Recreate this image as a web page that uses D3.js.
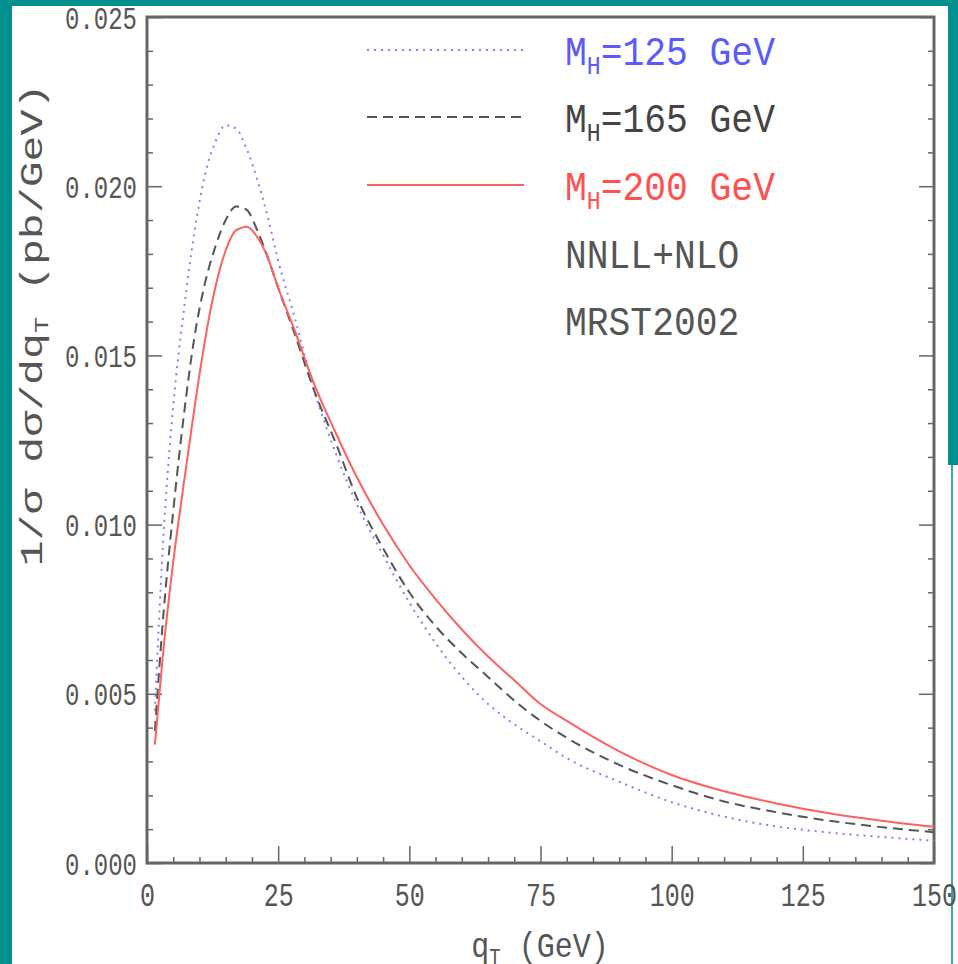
<html>
<head>
<script src="https://d3js.org/d3.v7.min.js"></script>
<style>
  body { margin: 0; background: #00918e; }
  text { font-family: "Liberation Mono", "DejaVu Sans Mono", monospace; }
</style>
</head>
<body>
<script>
// q_T values (GeV)
var qT = [1.5, 3, 5, 7, 9, 11, 13, 15, 17, 19, 21, 23, 25, 28, 32, 36, 40, 45, 50, 55,
          60, 65, 70, 75, 80, 90, 100, 110, 120, 130, 140, 150];
// 1/sigma dsigma/dqT (pb/GeV)
var mh125 = [0.0045, 0.0093, 0.0135, 0.0163, 0.0186, 0.0203, 0.0213, 0.0218, 0.0217, 0.0211,
             0.0202, 0.0191, 0.0178, 0.0162, 0.0139, 0.0121, 0.0106, 0.0091, 0.0077, 0.0065,
             0.0055, 0.0047, 0.0041, 0.0036, 0.0031, 0.0024, 0.00180, 0.00137, 0.00108,
             0.00090, 0.00077, 0.00066];
var mh165 = [0.0039, 0.0071, 0.0104, 0.0132, 0.0155, 0.0171, 0.0182, 0.0190, 0.0194, 0.0193,
             0.0187, 0.0179, 0.0170, 0.0157, 0.0139, 0.0124, 0.0108, 0.0093, 0.0080, 0.0070,
             0.0062, 0.0055, 0.0048, 0.0042, 0.0037, 0.0029, 0.0023, 0.00182, 0.00150,
             0.00125, 0.00106, 0.00091];
var mh200 = [0.0035, 0.0061, 0.0089, 0.0112, 0.0134, 0.0154, 0.0170, 0.0181, 0.0187, 0.0188,
             0.0185, 0.0179, 0.0170, 0.0158, 0.0141, 0.0127, 0.0114, 0.0100, 0.0088, 0.0078,
             0.0069, 0.0061, 0.0054, 0.0047, 0.0042, 0.0033, 0.0026, 0.00212, 0.00176,
             0.00147, 0.00125, 0.00107];
var xTicks = [0, 25, 50, 75, 100, 125, 150];
var yTicks = [0, 0.005, 0.010, 0.015, 0.020, 0.025];
var legendNames = ["125", "165", "200"];
var notes = ["NNLL+NLO", "MRST2002"];

var W = 958, H = 964;
var pLeft = 147, pRight = 934, pTop = 17, pBottom = 863;

var svg = d3.select("body").append("svg").attr("width", W).attr("height", H);

// slide background
svg.append("rect").attr("width", W).attr("height", H).attr("fill", "#00918e");
svg.append("rect").attr("x", 12).attr("y", 6).attr("width", 936).attr("height", H - 6).attr("fill", "#fff");
svg.append("rect").attr("x", 948).attr("y", 465).attr("width", 10).attr("height", H - 465).attr("fill", "#fff");
svg.append("rect").attr("x", 951).attr("y", 465).attr("width", 2).attr("height", H - 465).attr("fill", "#3aa8a5");

var x = d3.scaleLinear().domain([0, 150]).range([pLeft, pRight]);
var y = d3.scaleLinear().domain([0, 0.025]).range([pBottom, pTop]);

var axisColor = "#666", textColor = "#555";

// minor ticks
var xMinor = d3.range(0, 151, 5).filter(function(d){ return d % 25 != 0; });
var yMinor = d3.range(0, 26).filter(function(i){ return i % 5 != 0; }).map(function(i){ return i / 1000; });

function styleAxis(g) {
  g.select(".domain").remove();
  g.selectAll("line").attr("stroke", axisColor).attr("stroke-width", 1.5);
}

svg.append("g").attr("transform", "translate(0," + pBottom + ")")
  .call(d3.axisBottom(x).tickValues(xMinor).tickSizeInner(-6).tickFormat(""))
  .call(styleAxis);
svg.append("g").attr("transform", "translate(" + pLeft + ",0)")
  .call(d3.axisLeft(y).tickValues(yMinor).tickSizeInner(-6).tickFormat(""))
  .call(styleAxis);
svg.append("g").attr("transform", "translate(" + pRight + ",0)")
  .call(d3.axisRight(y).tickValues(yMinor).tickSizeInner(-6).tickFormat(""))
  .call(styleAxis);

var gx = svg.append("g").attr("transform", "translate(0," + pBottom + ")")
  .call(d3.axisBottom(x).tickValues(xTicks).tickSizeInner(-17).tickFormat(d3.format("d")))
  .call(styleAxis);
gx.selectAll("text")
  .attr("y", 0).attr("dy", 0)
  .attr("transform", "translate(0,43) scale(1,1.3)")
  .attr("font-size", 25).attr("fill", textColor)
  .attr("font-family", "Liberation Mono");

var gy = svg.append("g").attr("transform", "translate(" + pLeft + ",0)")
  .call(d3.axisLeft(y).tickValues(yTicks).tickSizeInner(-15).tickFormat(d3.format(".3f")))
  .call(styleAxis);
gy.selectAll("text")
  .attr("x", 0).attr("dy", 0)
  .attr("transform", "translate(-10,11) scale(1,1.3)")
  .attr("font-size", 24).attr("fill", textColor)
  .attr("font-family", "Liberation Mono");

svg.append("g").attr("transform", "translate(" + pRight + ",0)")
  .call(d3.axisRight(y).tickValues(yTicks).tickSizeInner(-15).tickFormat(""))
  .call(styleAxis);

// frame
svg.append("rect")
  .attr("x", pLeft).attr("y", pTop)
  .attr("width", pRight - pLeft).attr("height", pBottom - pTop)
  .attr("fill", "none").attr("stroke", axisColor).attr("stroke-width", 3);

// curves
svg.append("clipPath").attr("id", "clip").append("rect")
  .attr("x", pLeft).attr("y", pTop).attr("width", pRight - pLeft).attr("height", pBottom - pTop);

var line = d3.line()
  .x(function(d){ return x(d[0]); })
  .y(function(d){ return y(d[1]); })
  .curve(d3.curveMonotoneX);

var series = [
  {vals: mh125, color: "#8080ff", dash: "2,5", text: "#5a5aff"},
  {vals: mh165, color: "#555", dash: "10,6", text: "#444"},
  {vals: mh200, color: "#ff6060", dash: null, text: "#ff5050"}
];

var plot = svg.append("g").attr("clip-path", "url(#clip)");
series.forEach(function(s){
  plot.append("path")
    .datum(qT.map(function(q, i){ return [q, s.vals[i]]; }))
    .attr("d", line)
    .attr("fill", "none")
    .attr("stroke", s.color)
    .attr("stroke-width", 2)
    .attr("stroke-dasharray", s.dash);
});

// legend
var legY = [50, 117, 185];
series.forEach(function(s, i){
  svg.append("line")
    .attr("x1", 367).attr("x2", 524).attr("y1", legY[i]).attr("y2", legY[i])
    .attr("stroke", s.color).attr("stroke-width", 2).attr("stroke-dasharray", s.dash);
  var t = svg.append("text")
    .attr("transform", "translate(565," + (legY[i] + 15) + ") scale(1.1,1.22)")
    .attr("font-size", 33).attr("fill", s.text);
  t.append("tspan").text("M");
  t.append("tspan").attr("font-size", 21).attr("dy", 7).text("H");
  t.append("tspan").attr("dy", -7).text("=" + legendNames[i] + " GeV");
});
notes.forEach(function(n, i){
  svg.append("text")
    .attr("transform", "translate(565," + (268 + i * 67) + ") scale(1.1,1.22)")
    .attr("font-size", 33).attr("fill", "#555")
    .text(n);
});

// axis titles
var xt = svg.append("text")
  .attr("transform", "translate(540,957) scale(1,1.15)")
  .attr("text-anchor", "middle")
  .attr("font-size", 30).attr("fill", textColor);
xt.append("tspan").text("q");
xt.append("tspan").attr("font-size", 19).attr("dy", 6).text("T");
xt.append("tspan").attr("dy", -6).text(" (GeV)");

var yt = svg.append("text")
  .attr("transform", "translate(42,325) rotate(-90) scale(1.35,1)")
  .attr("text-anchor", "middle")
  .attr("font-size", 32).attr("fill", textColor);
yt.append("tspan").text("1/\u03c3 d\u03c3/dq");
yt.append("tspan").attr("font-size", 20).attr("dy", 6).text("T");
yt.append("tspan").attr("dy", -6).text(" (pb/GeV)");
</script>
</body>
</html>
